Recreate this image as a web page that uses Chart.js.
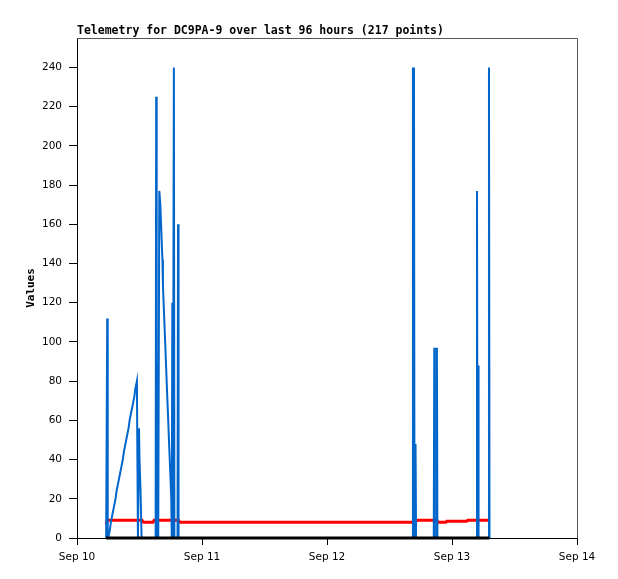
<!DOCTYPE html>
<html>
<head>
<meta charset="utf-8">
<script src="https://cdn.jsdelivr.net/npm/chart.js@4.4.1/dist/chart.umd.min.js"></script>
<style>
    body { margin: 0; background: #fff; }
    canvas { display: block; }
</style>
</head>
<body>
<canvas id="myChart" width="618" height="579"></canvas>
<script>
// hours since Sep 10 00:00
let tickLabels = ['Sep 10', 'Sep 11', 'Sep 12', 'Sep 13', 'Sep 14'];

let blueHours = [5.6, 5.8, 5.9, 6.0, 6.3, 6.5, 6.8, 7.1, 7.4, 7.6, 7.9, 8.2, 8.5, 8.8, 9.0, 9.3, 9.6, 9.9, 10.1, 10.4, 10.7, 11.0, 11.2, 11.5,
    11.6, 11.7, 11.9, 12.0, 12.2, 12.4,
    15.1, 15.2, 15.3, 15.4, 15.5, 15.6, 15.8, 16.0, 16.2, 16.4, 16.5, 16.7, 16.9, 17.1, 17.3, 17.5, 17.7, 17.9, 18.1, 18.2,
    18.3, 18.4, 18.6, 18.7, 19.3, 19.4, 19.5,
    64.4, 64.5, 64.6, 64.7, 64.8, 65.0, 65.1,
    68.5, 68.6, 68.7, 69.0, 69.1, 69.2,
    76.7, 76.8, 76.9, 77.0, 77.1,
    79.0, 79.1, 79.2];
let blueValues = [0, 112, 0, 0, 4, 8, 12, 16, 20, 24, 28, 32, 36, 40, 44, 48, 52, 56, 60, 64, 68, 72, 76, 80,
    40, 0, 56, 40, 24, 0,
    0, 225, 0, 0, 88, 0, 177, 170, 156, 142, 129, 115, 102, 88, 74, 61, 47, 34, 20, 0,
    120, 0, 240, 0, 0, 160, 0,
    0, 240, 0, 240, 0, 48, 0,
    0, 97, 0, 0, 97, 0,
    0, 177, 0, 88, 0,
    0, 240, 0];

let redHours = [5.6, 5.8, 12.5, 12.8, 14.6, 14.8, 19.5, 19.7, 65.0, 65.2, 69.1, 69.3, 70.8, 71.0, 74.8, 75.0, 79.2];
let redValues = [7, 9, 9, 8, 8, 9, 9, 8, 8, 9, 9, 8, 8, 8.5, 8.5, 9, 9];

let blackHours = [5.6, 79.2];
let blackValues = [0, 0];

function toPoints(xs, ys) {
    return xs.map((x, i) => ({x: x, y: ys[i]}));
}

// title and grey top/right frame
let framePlugin = {
    id: 'frame',
    afterDraw(chart) {
        let ctx = chart.ctx;
        let a = chart.chartArea;
        ctx.save();
        ctx.strokeStyle = '#555';
        ctx.lineWidth = 1;
        ctx.beginPath();
        ctx.moveTo(a.left, a.top + 0.5);
        ctx.lineTo(a.right + 0.5, a.top + 0.5);
        ctx.lineTo(a.right + 0.5, a.bottom);
        ctx.stroke();
        ctx.fillStyle = '#000';
        ctx.font = 'bold 11.5px "DejaVu Sans Mono"';
        ctx.textBaseline = 'middle';
        ctx.textAlign = 'left';
        ctx.fillText('Telemetry for DC9PA-9 over last 96 hours (217 points)', a.left, 31);
        ctx.restore();
    }
};

const ctx = document.getElementById('myChart');

new Chart(ctx, {
    type: 'line',
    data: {
        datasets: [
            {data: toPoints(blackHours, blackValues), borderColor: '#000', borderWidth: 3, order: 0},
            {data: toPoints(blueHours, blueValues), borderColor: '#0066cc', borderWidth: 2, order: 1},
            {data: toPoints(redHours, redValues), borderColor: '#ff0000', borderWidth: 3, order: 2}
        ]
    },
    options: {
        responsive: false,
        animation: false,
        devicePixelRatio: 1,
        elements: {
            point: {radius: 0},
            line: {tension: 0}
        },
        datasets: {line: {clip: false}},
        layout: {padding: {left: 0, right: 41, top: 38, bottom: 0}},
        plugins: {
            legend: {display: false},
            tooltip: {enabled: false}
        },
        scales: {
            x: {
                type: 'linear',
                min: 0,
                max: 96,
                afterFit(scale) { scale.height = 41; },
                ticks: {
                    stepSize: 24,
                    padding: 6,
                    maxRotation: 0,
                    color: '#000',
                    font: {family: 'DejaVu Sans', size: 10.5},
                    callback: (v) => tickLabels[v / 24]
                },
                grid: {drawOnChartArea: false, tickLength: 7, color: '#000'},
                border: {color: '#000'}
            },
            y: {
                min: 0,
                max: 255,
                afterFit(scale) { scale.width = 77; },
                ticks: {
                    stepSize: 20,
                    includeBounds: false,
                    padding: 7,
                    color: '#000',
                    font: {family: 'DejaVu Sans', size: 10.5}
                },
                grid: {drawOnChartArea: false, tickLength: 8, color: '#000'},
                border: {color: '#000'},
                title: {
                    display: true,
                    text: 'Values',
                    color: '#000',
                    font: {family: 'DejaVu Sans Mono', size: 11, weight: 'bold'},
                    padding: {top: 25, bottom: 0}
                }
            }
        }
    },
    plugins: [framePlugin]
});
</script>
</body>
</html>
